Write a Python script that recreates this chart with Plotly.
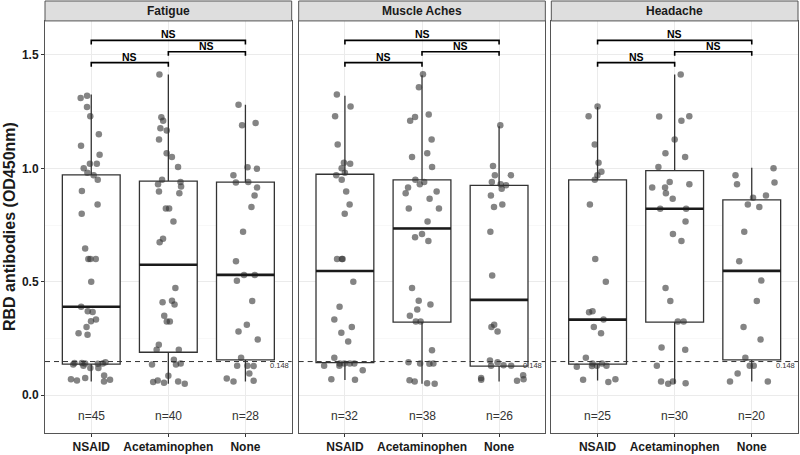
import plotly.graph_objects as go

# ---------------- data ----------------
facets = ["Fatigue", "Muscle Aches", "Headache"]
groups = ["NSAID", "Acetaminophen", "None"]
n_counts = {
    "Fatigue": [45, 40, 28],
    "Muscle Aches": [32, 38, 26],
    "Headache": [25, 30, 20],
}

fatigue_nsaid = [1.31, 1.32, 1.27, 1.23, 1.15, 1.10, 1.06, 1.02, 1.02, 1.00, 0.98, 0.97, 0.95, 0.90, 0.84, 0.80,
                 0.646, 0.60, 0.60, 0.60, 0.50, 0.39, 0.37, 0.367, 0.333, 0.326, 0.30, 0.273, 0.266,
                 0.14, 0.14, 0.142, 0.142, 0.138, 0.13, 0.12, 0.12, 0.145, 0.135,
                 0.086, 0.07, 0.065, 0.075, 0.068, 0.06]
fatigue_acet = [1.414, 1.21, 1.225, 1.177, 1.167, 1.127, 1.066, 1.05, 1.006, 0.95, 0.94, 0.92, 0.898, 0.89, 0.823, 0.823, 0.766,
                0.674, 0.69, 0.472, 0.41, 0.40, 0.416, 0.35, 0.325, 0.325, 0.222, 0.20, 0.20, 0.156, 0.135, 0.135,
                0.085, 0.06, 0.055, 0.05, 0.065, 0.058, 0.14, 0.93]
fatigue_none = [1.28, 1.20, 1.19, 1.005, 0.998, 0.97, 0.937, 0.94, 0.915, 0.88, 0.83,
                0.72, 0.59, 0.53, 0.53, 0.504, 0.415, 0.31, 0.28, 0.245, 0.165, 0.128, 0.13, 0.095, 0.073, 0.063, 0.06, 0.13]

muscle_nsaid = [1.325, 1.273, 1.23, 1.105, 1.025, 1.02, 1.00, 0.98, 0.97, 0.95, 0.898, 0.84, 0.80,
                0.60, 0.60, 0.60, 0.50, 0.39, 0.333, 0.30, 0.275, 0.237, 0.165, 0.14, 0.14, 0.14, 0.14, 0.13, 0.13, 0.11, 0.07, 0.068]
muscle_acet = [1.415, 1.357, 1.237, 1.226, 1.21, 1.127, 1.067, 1.05, 1.006, 0.95, 0.94, 0.93, 0.915, 0.898, 0.89, 0.866, 0.823, 0.823, 0.766,
               0.71, 0.696, 0.68, 0.472, 0.416, 0.40, 0.377, 0.35, 0.325, 0.325, 0.198, 0.145, 0.14, 0.138, 0.14, 0.066, 0.05, 0.052, 0.06]
muscle_none = [1.19, 1.01, 0.97, 0.97, 0.94, 0.93, 0.925, 0.91, 0.88, 0.84, 0.83,
               0.72, 0.528, 0.31, 0.30, 0.28, 0.153, 0.13, 0.145, 0.088, 0.13, 0.132, 0.063, 0.07, 0.068, 0.075]

headache_nsaid = [1.273, 1.23, 1.105, 1.025, 0.97, 0.95, 0.985, 0.84,
                  0.60, 0.50, 0.37, 0.365, 0.333, 0.30, 0.273, 0.165, 0.13, 0.14, 0.125, 0.13, 0.128, 0.058, 0.07, 0.068, 0.14]
headache_acet = [1.414, 1.23, 1.228, 1.21, 1.127, 1.067, 1.05, 1.006, 0.94, 0.93, 0.915, 0.915, 0.89, 0.866, 0.822, 0.822, 0.766,
                 0.71, 0.68, 0.472, 0.415, 0.325, 0.325, 0.20, 0.21, 0.13, 0.06, 0.05, 0.052, 0.06]
headache_none = [1.0, 0.97, 0.937, 0.93, 0.88, 0.87, 0.84, 0.83, 0.72, 0.59, 0.505, 0.415, 0.30, 0.245, 0.165,
                 0.13, 0.13, 0.095, 0.06, 0.06]

points = {
    "Fatigue": [fatigue_nsaid, fatigue_acet, fatigue_none],
    "Muscle Aches": [muscle_nsaid, muscle_acet, muscle_none],
    "Headache": [headache_nsaid, headache_acet, headache_none],
}

# box statistics
box_q1 = {"Fatigue": [0.137, 0.189, 0.155], "Muscle Aches": [0.143, 0.322, 0.128], "Headache": [0.137, 0.322, 0.155]}
box_median = {"Fatigue": [0.39, 0.575, 0.53], "Muscle Aches": [0.547, 0.735, 0.42], "Headache": [0.333, 0.822, 0.548]}
box_q3 = {"Fatigue": [0.971, 0.944, 0.939], "Muscle Aches": [0.974, 0.949, 0.925], "Headache": [0.949, 0.99, 0.861]}
box_low = {"Fatigue": [0.06, 0.05, 0.06], "Muscle Aches": [0.067, 0.05, 0.06], "Headache": [0.064, 0.05, 0.06]}
box_high = {"Fatigue": [1.325, 1.414, 1.28], "Muscle Aches": [1.32, 1.41, 1.186], "Headache": [1.27, 1.414, 1.003]}

cutoff = 0.148
cutoff_label = "0.148"
# comparisons: (group a, group b, bracket level, label)
comparisons = [(1, 2, 1.466, "NS"), (2, 3, 1.514, "NS"), (1, 3, 1.564, "NS")]
y_ticks = [0.0, 0.5, 1.0, 1.5]
y_tick_text = ["0.0", "0.5", "1.0", "1.5"]
y_title = "RBD antibodies (OD450nm)"

# ---------------- figure ----------------
FONT = "Liberation Sans, Arial, Helvetica, sans-serif"
W, H = 800, 455
ML, MR, MT, MB = 45, 1, 1, 20
plot_w = W - ML - MR
plot_h = H - MT - MB
strip_h = 20
ytop = (plot_h - strip_h) / plot_h
domains = [[0, 247 / plot_w], [(299 - ML) / plot_w, (546 - ML) / plot_w], [(552 - ML) / plot_w, 1.0]]
BOXW = 0.75
positions = [1, 2, 3]

fig = go.Figure()
shapes = []
annotations = []
for i, facet in enumerate(facets):
    xa = "x" if i == 0 else f"x{i+1}"
    ya = "y" if i == 0 else f"y{i+1}"
    # boxes from precomputed stats
    fig.add_trace(go.Box(
        x=positions, q1=box_q1[facet], median=box_median[facet], q3=box_q3[facet],
        lowerfence=box_low[facet], upperfence=box_high[facet],
        width=BOXW, whiskerwidth=0, fillcolor="white",
        line=dict(color="#333333", width=1.3), boxpoints=False,
        xaxis=xa, yaxis=ya, showlegend=False, hoverinfo="skip"))
    # thick median lines
    mx, my = [], []
    for p, m in zip(positions, box_median[facet]):
        mx += [p - BOXW / 2, p + BOXW / 2, None]
        my += [m, m, None]
    fig.add_trace(go.Scatter(x=mx, y=my, mode="lines", line=dict(color="#1a1a1a", width=2.6),
                             xaxis=xa, yaxis=ya, showlegend=False, hoverinfo="skip"))
    # jittered points
    px, py = [], []
    for p, vals in zip(positions, points[facet]):
        px += [p] * len(vals)
        py += vals
    fig.add_trace(go.Box(
        x=px, y=py, boxpoints="all", jitter=0.85, pointpos=0, width=BOXW,
        fillcolor="rgba(0,0,0,0)", line=dict(color="rgba(0,0,0,0)", width=0),
        marker=dict(color="rgba(50,50,50,0.6)", size=6.5, line=dict(width=0)),
        xaxis=xa, yaxis=ya, showlegend=False, hoverinfo="skip"))
    # significance brackets
    for a, b, lvl, lab in comparisons:
        fig.add_trace(go.Scatter(x=[a, a, b, b], y=[lvl - 0.018, lvl, lvl, lvl - 0.018], mode="lines",
                                 line=dict(color="black", width=1.6), xaxis=xa, yaxis=ya,
                                 showlegend=False, hoverinfo="skip"))
        annotations.append(dict(x=(a + b) / 2, y=lvl, xref=xa, yref=ya, text=f"<b>{lab}</b>",
                                showarrow=False, yanchor="bottom", yshift=-2,
                                font=dict(family=FONT, size=10.5, color="black")))
    # n labels
    for p, n in zip(positions, n_counts[facet]):
        annotations.append(dict(x=p, y=-0.09, xref=xa, yref=ya, text=f"n={n}", showarrow=False,
                                font=dict(family=FONT, size=12, color="#333333")))
    # cutoff line + label
    shapes.append(dict(type="line", xref=f"{xa} domain", x0=0, x1=1, yref=ya, y0=cutoff, y1=cutoff,
                       line=dict(color="#333333", width=1, dash="5px,4px"), layer="above"))
    annotations.append(dict(x=3.585, y=cutoff, xref=xa, yref=ya, text=cutoff_label, showarrow=False,
                            xanchor="right", yanchor="middle", yshift=-4,
                            font=dict(family=FONT, size=7.5, color="#333333")))
    # strip
    shapes.append(dict(type="rect", xref=f"{xa} domain", x0=0, x1=1, yref="paper", y0=ytop, y1=1,
                       fillcolor="#DEDEDE", line=dict(color="#555555", width=1), layer="above"))
    annotations.append(dict(x=0.5, y=(ytop + 1) / 2, xref=f"{xa} domain", yref="paper",
                            text=f"<b>{facet}</b>", showarrow=False, yanchor="middle",
                            font=dict(family=FONT, size=12, color="#1a1a1a")))

annotations.append(dict(x=-(ML - 10) / plot_w, y=ytop / 2, xref="paper", yref="paper",
                        text=f"<b>{y_title}</b>", textangle=-90, showarrow=False,
                        xanchor="center", yanchor="middle",
                        font=dict(family=FONT, size=16, color="#1a1a1a")))

layout = dict(
    width=W, height=H, margin=dict(l=ML, r=MR, t=MT, b=MB),
    paper_bgcolor="white", plot_bgcolor="white", showlegend=False,
    shapes=shapes, annotations=annotations, boxmode="overlay", hovermode=False,
    font=dict(family=FONT),
)
for i in range(3):
    xk = "xaxis" if i == 0 else f"xaxis{i+1}"
    yk = "yaxis" if i == 0 else f"yaxis{i+1}"
    xa_id = "x" if i == 0 else f"x{i+1}"
    ya_id = "y" if i == 0 else f"y{i+1}"
    layout[xk] = dict(domain=domains[i], anchor=ya_id, range=[0.4, 3.6], tickvals=positions, ticktext=groups,
                      showgrid=True, gridcolor="#EBEBEB", gridwidth=1, zeroline=False,
                      showline=True, mirror=True, linecolor="#555555", linewidth=1,
                      ticks="outside", ticklen=3, tickcolor="#333333",
                      tickfont=dict(family=FONT, size=12, color="#1a1a1a", weight="bold"))
    layout[yk] = dict(domain=[0, ytop], anchor=xa_id, range=[-0.167, 1.65], tickvals=y_ticks,
                      ticktext=y_tick_text, showgrid=True, gridcolor="#EBEBEB", gridwidth=1, zeroline=False,
                      showline=True, mirror=True, linecolor="#555555", linewidth=1,
                      minor=dict(tickvals=[0.25, 0.75, 1.25], showgrid=True, gridcolor="#F4F4F4", gridwidth=0.6, ticks=""),
                      ticks="outside" if i == 0 else "", ticklen=3, tickcolor="#333333",
                      showticklabels=(i == 0),
                      tickfont=dict(family=FONT, size=12, color="#1a1a1a", weight="bold"))
    if i > 0:
        layout[yk]["matches"] = "y"

fig.update_layout(**layout)
fig.write_html("out.html", config={"displayModeBar": False, "staticPlot": True},
               post_script="document.body.style.margin='0';document.body.style.padding='0';")
